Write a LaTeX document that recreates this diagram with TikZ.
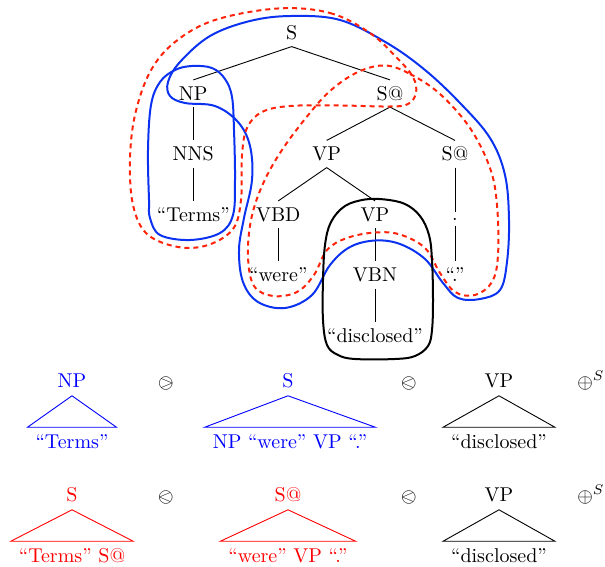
\documentclass[tikz,border=0pt]{standalone}
\usepackage{stmaryrd}
\definecolor{cblue}{RGB}{10,50,240}
\definecolor{cred}{RGB}{255,35,10}
\definecolor{tblue}{RGB}{0,0,255}
\definecolor{tred}{RGB}{255,0,0}
\begin{document}
\begin{tikzpicture}[x=0.5pt,y=-0.5pt,
  tn/.style={inner xsep=2pt,inner ysep=3.4pt,text height=6.8pt,text depth=0pt,outer sep=0pt},
  rt/.style={inner xsep=4pt,inner ysep=4pt,text height=6.8pt,text depth=0pt,outer sep=0pt},
  op/.style={anchor=base,inner sep=0pt},
  tedge/.style={line width=0.45pt},
  bcurve/.style={cblue,line width=1pt},
  rcurve/.style={cred,line width=1pt,dash pattern=on 2.5pt off 2pt},
  kcurve/.style={black,line width=1pt}]
\useasboundingbox (0,0) rectangle (605,567);
% tree
\node[tn] (S) at (291.7,33) {S};
\node[tn] (NP) at (193.3,93.5) {NP};
\node[tn] (Sa) at (390,93.5) {S@};
\node[tn] (NNS) at (193.3,154) {NNS};
\node[tn] (VP1) at (326.7,154) {VP};
\node[tn] (Sb) at (455,154) {S@};
\node[tn] (Terms) at (193.3,214.5) {“Terms”};
\node[tn] (VBD) at (278.3,214.5) {VBD};
\node[tn] (VP2) at (375,214.5) {VP};
\node[inner sep=2.6pt] (dot) at (455,219) {.};
\node[tn] (were) at (278.3,275) {“were”};
\node[tn] (VBN) at (375,275) {VBN};
\node[tn] (dotq) at (455,275) {“.”};
\node[tn] (disc) at (375,335.5) {“disclosed”};
\draw[tedge] (S.south) -- (NP.north);
\draw[tedge] (S.south) -- (Sa.north);
\draw[tedge] (NP.south) -- (NNS.north);
\draw[tedge] (NNS.south) -- (Terms.north);
\draw[tedge] (Sa.south) -- (VP1.north);
\draw[tedge] (Sa.south) -- (Sb.north);
\draw[tedge] (VP1.south) -- (VBD.north);
\draw[tedge] (VP1.south) -- (VP2.north);
\draw[tedge] (Sb.south) -- (dot.north);
\draw[tedge] (dot.south) -- (dotq.north);
\draw[tedge] (VBD.south) -- (were.north);
\draw[tedge] (VP2.south) -- (VBN.north);
\draw[tedge] (VBN.south) -- (disc.north);
% blue curves
\draw[bcurve] plot[smooth cycle,tension=0.6] coordinates {
 (291,16) (340,20) (387,43) (425,70) (460,103) (490,138) (505,175) (509,220)
 (507,262) (500,290) (480,299) (458,298) (443,283) (425,259) (400,244) (375,240.5)
 (350,247) (330,265) (312,295) (285,308) (258,302) (243,282) (239,250) (244,218)
 (252,180) (250,146) (238,122) (215,106) (185,103) (170,96) (168,82) (180,62)
 (210,36) (250,21)};
\draw[bcurve] plot[smooth cycle,tension=0.6] coordinates {
 (149,200) (148,150) (151,105) (160,82) (175,70) (192,66) (212,68) (225,79)
 (232,97) (234,130) (235,180) (233,215) (220,233) (190,240) (160,235) (150,218)};
% red dashed curves
\draw[rcurve] plot[smooth cycle,tension=0.6] coordinates {
 (278,8.5) (330,13) (370,33) (397,58) (413,77) (416,93) (408,104) (390,106.5)
 (340,105.5) (290,106) (262,112) (247,128) (242,155) (241,200) (233,229) (208,245)
 (178,247) (147,234) (133,205) (130,160) (135,115) (150,72) (175,42) (215,20)};
\draw[rcurve] plot[smooth cycle,tension=0.6] coordinates {
 (385,65.5) (410,74) (440,94) (470,128) (490,168) (497,205) (498,255) (492,282)
 (475,295) (455,292) (440,273) (425,248) (400,234.5) (375,232.5) (347,238) (327,250)
 (314,275) (297,292) (273,296) (254,286) (248,257) (251,220) (262,186) (280,153)
 (305,119) (330,91) (358,72)};
% black box
\draw[kcurve] plot[smooth cycle,tension=0.6] coordinates {
 (323,320) (323,280) (325,245) (331,222) (345,206) (365,199.5) (385,199.5) (405,204)
 (420,216) (429,235) (432,260) (433,300) (432,330) (428,346) (415,356) (395,359)
 (355,359) (338,355) (327,345)};
% row 1
\node[rt,tblue] (r1a) at (72,381) {NP};
\node[rt,tblue] (r1at) at (72,442) {“Terms”};
\draw[tblue,tedge] (r1a.south) -- (r1at.north west) -- (r1at.north east) -- cycle;
\node[op] (o11) at (166,388) {$\ogreaterthan$};
\node[rt,tblue] (r1b) at (288,381) {S};
\node[rt,tblue] (r1bt) at (290,442) {NP “were” VP “.”};
\draw[tblue,tedge] (r1b.south) -- (r1bt.north west) -- (r1bt.north east) -- cycle;
\node[op] (o12) at (409,388) {$\olessthan$};
\node[rt] (r1c) at (499,381) {VP};
\node[rt] (r1ct) at (499,442) {“disclosed”};
\draw[tedge] (r1c.south) -- (r1ct.north west) -- (r1ct.north east) -- cycle;
\node[op] (o13) at (591,388) {$\oplus^S$};
% row 2
\node[rt,tred] (r2a) at (72,495) {S};
\node[rt,tred] (r2at) at (72,556) {“Terms” S@};
\draw[tred,tedge] (r2a.south) -- (r2at.north west) -- (r2at.north east) -- cycle;
\node[op] (o21) at (166,502) {$\olessthan$};
\node[rt,tred] (r2b) at (288,495) {S@};
\node[rt,tred] (r2bt) at (288,556) {“were” VP “.”};
\draw[tred,tedge] (r2b.south) -- (r2bt.north west) -- (r2bt.north east) -- cycle;
\node[op] (o22) at (409,502) {$\olessthan$};
\node[rt] (r2c) at (499,495) {VP};
\node[rt] (r2ct) at (499,556) {“disclosed”};
\draw[tedge] (r2c.south) -- (r2ct.north west) -- (r2ct.north east) -- cycle;
\node[op] (o23) at (591,502) {$\oplus^S$};
\end{tikzpicture}
\end{document}
